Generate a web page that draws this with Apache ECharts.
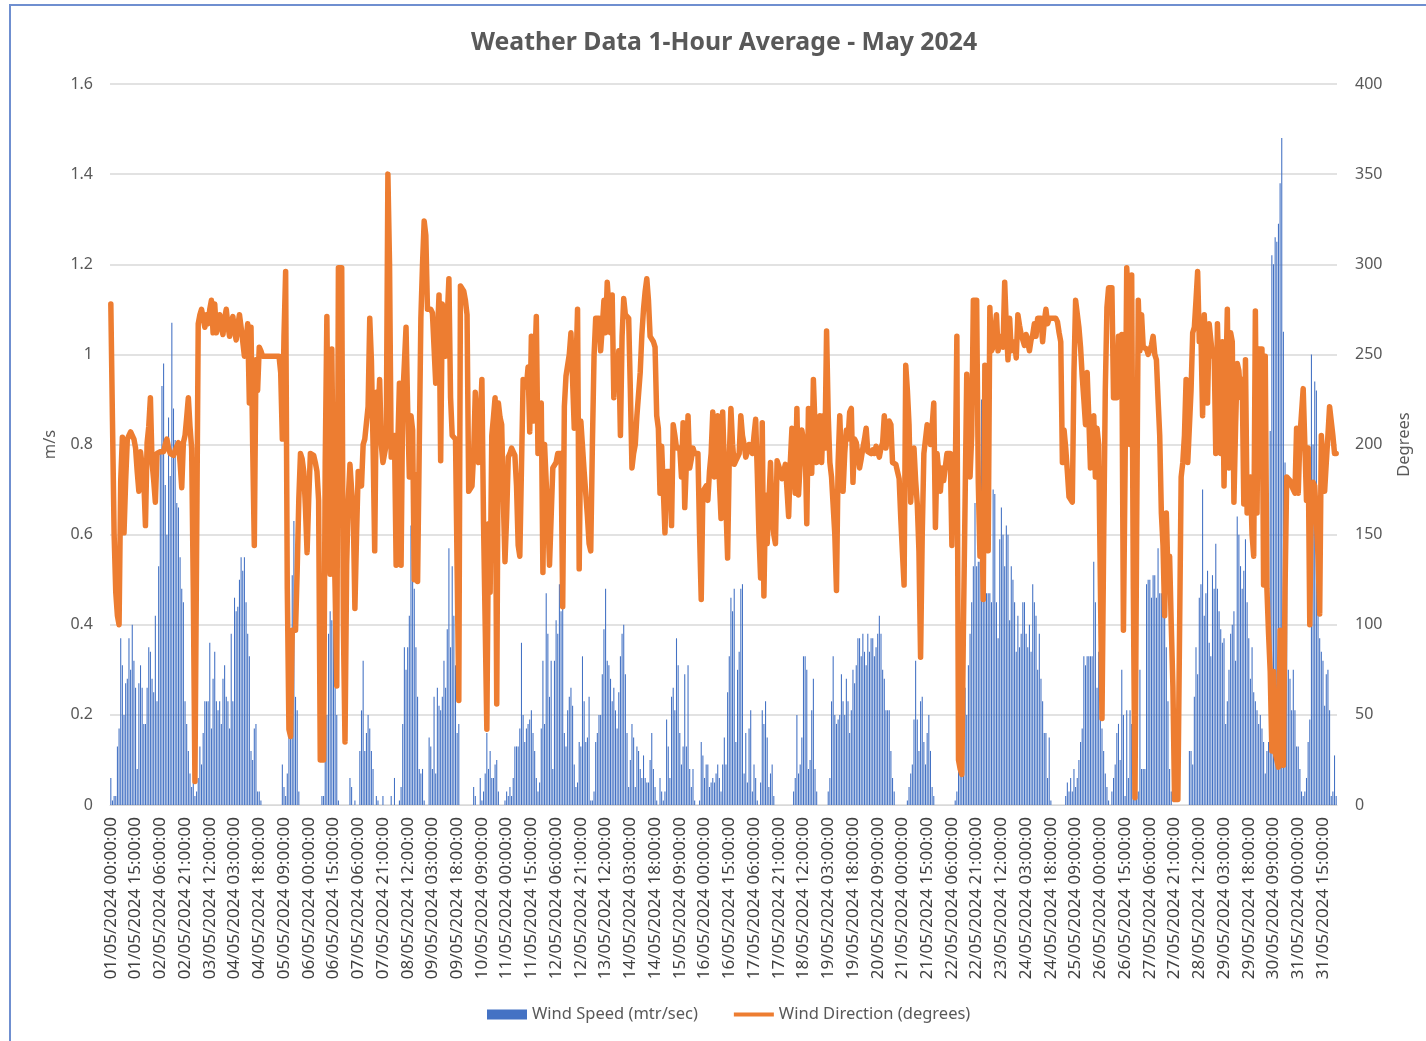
<!DOCTYPE html>
<html>
<head>
<meta charset="utf-8">
<script src="https://cdn.jsdelivr.net/npm/echarts@6/dist/echarts.min.js"></script>
<style>
  html, body { margin: 0; padding: 0; background: #fff; }
  #frame { position: absolute; left: 9px; top: 4px; width: 1440px; height: 1060px;
           border-left: 2px solid #6f8fd0; border-top: 2px solid #6f8fd0; }
  #chart { position: absolute; left: 0; top: 0; width: 1426px; height: 1041px; }
</style>
</head>
<body>
<div id="frame"></div>
<div id="chart"></div>
<script>
// Hourly averages, 1 May 2024 00:00 .. 31 May 2024 23:00 (one row per day)
const windSpeed = [
  0.06,0.01,0.02,0.02,0.13,0.17,0.37,0.31,0.2,0.27,0.28,0.37,0.3,0.4,0.32,0.26,0.08,0.27,0.31,0.26,0.18,0.18,0.26,0.35,
  0.34,0.28,0.25,0.42,0.23,0.53,0.79,0.93,0.98,0.71,0.6,0.86,0.73,1.07,0.88,0.81,0.67,0.66,0.55,0.48,0.45,0.23,0.18,0.12,
  0.07,0.04,0.05,0.02,0.03,0.06,0.13,0.09,0.16,0.23,0.23,0.23,0.36,0.17,0.28,0.34,0.23,0.21,0.23,0.18,0.28,0.31,0.24,0.23,
  0.17,0.38,0.23,0.46,0.43,0.44,0.5,0.55,0.52,0.55,0.45,0.38,0.33,0.12,0.1,0.17,0.18,0.03,0.03,0.01,0,0,0,0,
  0,0,0,0,0,0,0,0,0.09,0.04,0.02,0.07,0.18,0.23,0.51,0.63,0.24,0.21,0.03,0,0,0,0,0,
  0,0,0,0,0,0,0,0,0.02,0.02,0.12,0.2,0.38,0.43,0.41,0.43,0.26,0.2,0.01,0,0,0,0,0,
  0,0.06,0.04,0,0.01,0,0,0.12,0.21,0.32,0.12,0.16,0.2,0.17,0.12,0.08,0,0.02,0.01,0,0,0.02,0,0,
  0,0,0.02,0,0.06,0,0,0.01,0.04,0.18,0.35,0.3,0.35,0.42,0.62,0.56,0.48,0.35,0.24,0.08,0.07,0.08,0.01,0,
  0,0.15,0.13,0.08,0.24,0.07,0.26,0.22,0.21,0.24,0.32,0.26,0.39,0.57,0.35,0.53,0.42,0.31,0.16,0.18,0,0,0,0,
  0,0,0,0,0.04,0.02,0,0,0.06,0.01,0.03,0.07,0.16,0.08,0.12,0.06,0.06,0.09,0.1,0.03,0,0,0,0.01,
  0.03,0.02,0.04,0.02,0.06,0.13,0.13,0.13,0.17,0.36,0.2,0.14,0.17,0.18,0.19,0.21,0.16,0.12,0.06,0.03,0.05,0.17,0.32,0.18,
  0.47,0.38,0.24,0.32,0.08,0.32,0.41,0.38,0.49,0.43,0.89,0.16,0.13,0.21,0.24,0.26,0.22,0.09,0.04,0.05,0.14,0.13,0.33,0.23,
  0.14,0.15,0.24,0.01,0.01,0.03,0.14,0.16,0.2,0.2,0.29,0.39,0.48,0.32,0.31,0.28,0.23,0.26,0.21,0.17,0.25,0.33,0.38,0.4,
  0.29,0.16,0.04,0.1,0.18,0.15,0.04,0.13,0.12,0.08,0.06,0.11,0.06,0.05,0.05,0.1,0.16,0.08,0.04,0.01,0,0.06,0.03,0.01,
  0.03,0.19,0.13,0.06,0.24,0.26,0.21,0.37,0.31,0.16,0.09,0.13,0.29,0.13,0.31,0.08,0.04,0.08,0.01,0,0,0.01,0.14,0.11,
  0.06,0.09,0.09,0.04,0.05,0.06,0.05,0.07,0.09,0.06,0.03,0.09,0.15,0.09,0.25,0.33,0.46,0.43,0.48,0.14,0.3,0.34,0.48,0.49,
  0.07,0.16,0.05,0.17,0.21,0.03,0.09,0.06,0.01,0,0.05,0.21,0.18,0.23,0.15,0.04,0.07,0.09,0.02,0,0,0,0,0,
  0,0,0,0,0,0,0.03,0.06,0.2,0.07,0.09,0.15,0.33,0.33,0.3,0.08,0.1,0.21,0.28,0.08,0.03,0,0,0,
  0,0,0,0.03,0.06,0.23,0.33,0.2,0.18,0.19,0.2,0.29,0.23,0.2,0.28,0.23,0.16,0.21,0.3,0.27,0.31,0.37,0.37,0.33,
  0.38,0.34,0.31,0.38,0.34,0.37,0.37,0.33,0.35,0.38,0.42,0.38,0.3,0.28,0.21,0.21,0.21,0.12,0.06,0.03,0,0,0,0,
  0,0,0,0.01,0.04,0.07,0.09,0.19,0.32,0.19,0.12,0.23,0.24,0.14,0.09,0.16,0.2,0.12,0.04,0.02,0,0,0,0,
  0,0,0,0,0,0,0,0,0.01,0.03,0.09,0.23,0.38,0.42,0.26,0.2,0.31,0.38,0.45,0.53,0.67,0.53,0.54,0.54,
  0.9,0.98,0.75,0.47,0.47,0.47,0.45,0.7,0.69,0.45,0.37,0.59,0.66,0.6,0.53,0.62,0.6,0.41,0.53,0.5,0.45,0.34,0.42,0.35,
  0.38,0.45,0.45,0.38,0.35,0.4,0.34,0.49,0.45,0.42,0.3,0.38,0.28,0.23,0.16,0.16,0.06,0.15,0.01,0,0,0,0,0,
  0,0,0,0.02,0.05,0.03,0.06,0.03,0.08,0.04,0.06,0.1,0.14,0.17,0.33,0.31,0.33,0.33,0.33,0.33,0.54,0.45,0.26,0.34,
  0.2,0.17,0.12,0.07,0.04,0.01,0,0.03,0.06,0.09,0.16,0.18,0.1,0.3,0.2,0.02,0.21,0.06,0.21,0.18,0.05,0.02,0.02,0.03,
  0.3,0.08,0.08,0.08,0.49,0.5,0.5,0.46,0.51,0.51,0.46,0.57,0.47,0.47,0.44,0.42,0.35,0.23,0.08,0.03,0,0,0,0,
  0,0,0,0,0,0,0.12,0.12,0.09,0.24,0.35,0.29,0.46,0.49,0.7,0.42,0.47,0.52,0.36,0.33,0.51,0.48,0.58,0.48,
  0.43,0.39,0.36,0.37,0.18,0.23,0.3,0.38,0.4,0.43,0.32,0.64,0.6,0.53,0.48,0.52,0.59,0.45,0.37,0.28,0.35,0.25,0.23,0.21,
  0.18,0.2,0.17,0.14,0.07,0.12,0.14,0.83,1.22,1.2,1.26,1.25,1.29,1.38,1.48,1.05,0.76,0.72,0.3,0.28,0.21,0.3,0.21,0.13,
  0.13,0.08,0.03,0.02,0.03,0.06,0.14,0.19,1.0,0.8,0.94,0.92,0.56,0.37,0.34,0.32,0.22,0.29,0.3,0.21,0.02,0.03,0.11,0.02
];

const windDirection = [
  278,213,150,118,105,100,180,204,151,180,203,205,207,208,203,198,185,174,196,195,180,155,201,210,
  226,190,180,168,195,196,196,197,196,200,203,198,195,196,194,193,199,201,190,176,201,205,215,226,
  210,198,120,13,13,267,272,275,270,265,272,267,275,280,262,278,262,268,272,265,261,270,275,266,
  260,268,271,263,258,266,272,265,257,249,258,267,223,265,200,144,247,230,254,252,249,249,249,249,
  249,249,249,249,249,249,249,240,203,260,296,120,42,38,97,97,97,130,170,195,192,185,165,140,
  170,195,196,194,190,185,169,25,25,25,190,271,180,128,253,164,120,66,298,298,298,100,35,133,
  170,189,175,162,109,150,185,180,177,200,203,212,221,270,247,200,141,229,214,236,200,190,195,200,
  350,300,193,200,205,133,200,234,133,226,245,265,220,182,216,208,125,183,124,124,270,300,324,316,
  275,275,275,273,272,234,260,283,191,278,265,249,270,292,226,205,204,203,130,58,288,288,285,280,
  272,174,175,177,195,229,210,190,189,236,156,100,42,156,118,205,215,226,56,223,215,211,169,135,
  160,193,195,198,199,194,177,144,138,138,236,234,232,243,207,260,213,213,271,195,210,223,129,200,
  179,160,133,160,187,187,190,195,195,195,110,221,238,239,250,262,262,209,240,275,131,213,213,185,
  184,160,145,141,200,249,270,270,270,252,265,280,262,290,290,262,283,226,249,234,252,205,260,281,
  272,271,270,231,187,195,200,216,216,240,261,275,285,292,280,260,260,257,254,216,209,173,199,175,
  151,185,185,185,155,211,205,198,198,198,182,212,165,190,216,187,192,198,195,195,195,150,114,174,
  175,177,169,185,195,218,182,200,216,180,159,218,189,165,137,193,220,200,189,191,192,195,216,205,
  200,193,196,200,198,195,205,214,184,150,126,212,116,172,145,168,190,160,150,145,191,188,185,181,
  185,189,175,160,190,209,190,173,220,172,190,208,202,200,156,220,200,184,236,210,190,200,216,190,
  216,198,263,216,190,182,181,150,119,190,216,190,174,195,208,203,218,220,179,203,201,201,187,192,
  198,203,209,196,197,195,197,195,199,199,193,198,201,216,198,205,213,211,190,190,189,185,181,159,
  140,122,244,230,211,168,185,198,180,167,141,82,150,195,195,211,205,200,210,223,154,195,195,174,
  187,180,179,195,195,195,144,193,179,260,25,20,17,100,169,239,210,182,205,280,280,280,179,138,
  169,114,244,190,141,276,252,254,262,272,252,257,260,254,290,265,247,270,252,255,257,248,272,266,
  261,258,255,261,261,252,258,261,267,260,270,270,270,257,268,275,267,270,270,270,270,270,268,262,
  257,190,208,198,185,171,171,168,240,280,280,265,254,238,225,211,240,215,187,205,216,182,209,200,
  200,48,144,230,276,287,287,287,226,226,226,260,236,261,97,187,298,280,200,294,120,4,150,280,
  252,272,254,255,253,250,249,255,260,250,247,225,205,162,144,105,162,128,138,100,66,3,3,3,
  3,182,190,205,236,190,190,230,262,265,280,296,257,262,216,272,250,223,267,258,249,252,195,267,
  230,195,257,177,230,275,187,262,257,168,210,245,241,226,236,167,247,162,175,182,150,138,274,162,
  253,253,253,122,249,120,95,74,30,74,29,25,21,97,40,22,120,182,182,180,177,175,173,209,
  173,204,205,231,200,169,198,100,177,179,177,177,138,106,205,190,174,190,205,221,221,205,195,195
];

// category labels: dd/05/2024 hh:00:00 for every hour of the month
const timeLabels = [];
for (let d = 1; d <= 31; d++) {
  for (let h = 0; h < 24; h++) {
    const dd = String(d).padStart(2, "0");
    const hh = String(h).padStart(2, "0");
    timeLabels.push(dd + "/05/2024 " + hh + ":00:00");
  }
}

const fontFamily = "'Noto Sans', 'Open Sans', sans-serif";
const myChart = echarts.init(document.getElementById("chart"));

var option = {
  animation: false,
  textStyle: { fontFamily: fontFamily },
  title: {
    text: "Weather Data 1-Hour Average - May 2024",
    left: 466,
    top: 25,
    textStyle: { fontSize: 24.8, fontWeight: "bold", color: "#595959", fontFamily: fontFamily },
  },
  legend: {
    bottom: 13,
    left: 482,
    itemWidth: 40,
    itemHeight: 10,
    itemGap: 36,
    symbolKeepAspect: true,
    textStyle: { fontSize: 16.5, color: "#595959" },
    data: [
      { name: "Wind Speed (mtr/sec)", icon: "rect" },
      { name: "Wind Direction (degrees)", icon: "path://M0,0 L40,0 L40,4 L0,4 Z" },
    ],
  },
  grid: { left: 110, right: 89, top: 84, bottom: 236 },
  xAxis: {
    type: "category",
    data: timeLabels,
    boundaryGap: true,
    axisLine: { lineStyle: { color: "#d9d9d9" } },
    axisTick: { show: false },
    axisLabel: {
      interval: 14,
      rotate: 90,
      margin: 12,
      fontSize: 17,
      color: "#404040",
    },
  },
  yAxis: [
    {
      type: "value",
      min: 0,
      max: 1.6,
      interval: 0.2,
      name: "m/s",
      nameLocation: "middle",
      nameGap: 51,
      nameRotate: 90,
      nameTextStyle: { fontSize: 16.5, color: "#595959" },
      axisLabel: { fontSize: 16, color: "#595959", margin: 17 },
      splitLine: { lineStyle: { color: "#d9d9d9", width: 1.5 } },
    },
    {
      type: "value",
      min: 0,
      max: 400,
      interval: 50,
      name: "Degrees",
      nameLocation: "middle",
      nameGap: 59,
      nameRotate: 90,
      nameTextStyle: { fontSize: 16.5, color: "#595959" },
      axisLabel: { fontSize: 16, color: "#595959", margin: 18 },
      splitLine: { show: false },
    },
  ],
  series: [
    {
      name: "Wind Speed (mtr/sec)",
      type: "bar",
      data: windSpeed,
      barWidth: "65%",
      itemStyle: { color: "#4472C4" },
    },
    {
      name: "Wind Direction (degrees)",
      type: "line",
      yAxisIndex: 1,
      data: windDirection,
      symbol: "none",
      showSymbol: false,
      itemStyle: { color: "#ED7D31" },
      lineStyle: { color: "#ED7D31", width: 5.5, join: "round", cap: "round" },
    },
  ],
};

myChart.setOption(option);
</script>
</body>
</html>
